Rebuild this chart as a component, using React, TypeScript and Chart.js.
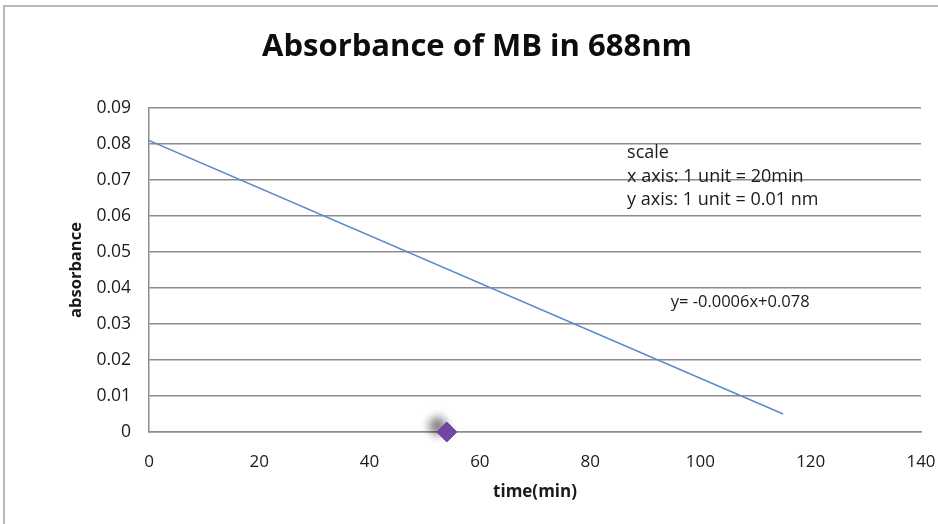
import React, { useEffect, useRef } from "react";
import { Chart, registerables } from "chart.js";

Chart.register(...registerables);

const titleText = "Absorbance of MB in 688nm";
const xAxisTitle = "time(min)";
const yAxisTitle = "absorbance";

// fitted line
const lineX = [0, 115];
const lineY = [0.081, 0.005];

// single measured point (purple diamond)
const pointX = [54];
const pointY = [0];

const xTicks = [0, 20, 40, 60, 80, 100, 120, 140];
const yTickLabels = ["0", "0.01", "0.02", "0.03", "0.04", "0.05", "0.06", "0.07", "0.08", "0.09"];

// note text, anchored in data coordinates
const noteLines = ["scale", "x axis: 1 unit = 20min", "y axis: 1 unit = 0.01 nm"];
const noteX = 86.7;
const noteY = [0.0775, 0.0709, 0.0645];
const equationText = "y= -0.0006x+0.078";
const equationX = 107.2;
const equationY = 0.0361;

const FONT = "'Open Sans', 'Liberation Sans', sans-serif";

export default function App() {
  const canvasRef = useRef<HTMLCanvasElement | null>(null);

  useEffect(() => {
    const canvas = canvasRef.current;
    if (!canvas) return;

    const shadowPlugin = {
      id: "diamondShadow",
      beforeDatasetDraw(chart: any, args: any) {
        if (args.index === 1) {
          const ctx = chart.ctx;
          ctx.save();
          ctx.shadowColor = "rgba(0,0,0,0.55)";
          ctx.shadowBlur = 10;
          ctx.shadowOffsetX = -9;
          ctx.shadowOffsetY = -6;
        }
      },
      afterDatasetDraw(chart: any, args: any) {
        if (args.index === 1) chart.ctx.restore();
      },
    };

    const notesPlugin = {
      id: "notes",
      afterDraw(chart: any) {
        const ctx = chart.ctx;
        const xs = chart.scales.x;
        const ys = chart.scales.y;
        ctx.save();
        ctx.fillStyle = "#0d0d0d";
        ctx.textBaseline = "middle";
        ctx.textAlign = "center";
        ctx.font = `bold 31px ${FONT}`;
        ctx.fillText(titleText, 477, 47);
        ctx.fillStyle = "#1a1a1a";
        ctx.font = `18px ${FONT}`;
        ctx.textAlign = "left";
        noteLines.forEach((t, i) => {
          ctx.fillText(t, xs.getPixelForValue(noteX), ys.getPixelForValue(noteY[i]));
        });
        ctx.font = `16.5px ${FONT}`;
        ctx.textAlign = "center";
        ctx.fillText(equationText, xs.getPixelForValue(equationX), ys.getPixelForValue(equationY));
        ctx.restore();
      },
    };

    const gridColor = "#8c8c8c";

    const chart = new Chart(canvas, {
      type: "scatter",
      data: {
        datasets: [
          {
            label: "fit",
            data: lineX.map((x, i) => ({ x, y: lineY[i] })),
            showLine: true,
            borderColor: "#5b8bc9",
            borderWidth: 1.5,
            pointRadius: 0,
            fill: false,
          },
          {
            label: "sample",
            data: pointX.map((x, i) => ({ x, y: pointY[i] })),
            pointStyle: "rectRot",
            pointRadius: 10,
            backgroundColor: "#7548a3",
            borderColor: "#6a3f98",
            borderWidth: 1,
            clip: false as any,
          },
        ],
      },
      options: {
        animation: false,
        responsive: false,
        maintainAspectRatio: false,
        layout: { padding: { left: 0, right: 17, top: 108, bottom: 0 } },
        plugins: {
          legend: { display: false },
          tooltip: { enabled: false },
          title: { display: false },
        },
        scales: {
          x: {
            type: "linear",
            min: 0,
            max: 140,
            afterBuildTicks(scale: any) {
              scale.ticks = xTicks.map((v) => ({ value: v }));
            },
            afterFit(scale: any) {
              scale.height = 92;
              scale.paddingLeft = 0;
              scale.paddingRight = 0;
            },
            grid: { display: false, drawTicks: false },
            border: { display: true, color: gridColor, width: 1.5 },
            ticks: {
              color: "#1a1a1a",
              font: { family: FONT, size: 17 },
              padding: 20,
              maxRotation: 0,
              callback: (v: any) => String(v),
            },
            title: {
              display: true,
              text: xAxisTitle,
              color: "#1a1a1a",
              font: { family: FONT, size: 17, weight: "bold" },
              padding: { top: 22, bottom: 22 },
            },
          },
          y: {
            type: "linear",
            min: 0,
            max: 0.09,
            afterBuildTicks(scale: any) {
              scale.ticks = yTickLabels.map((t) => ({ value: parseFloat(t) }));
            },
            afterFit(scale: any) {
              scale.width = 149;
              scale.paddingTop = 0;
              scale.paddingBottom = 0;
            },
            grid: { display: true, color: gridColor, lineWidth: 1.5, drawTicks: false },
            border: { display: true, color: gridColor, width: 1.5 },
            ticks: {
              color: "#1a1a1a",
              font: { family: FONT, size: 17.5 },
              padding: 18,
              callback: (_v: any, i: number) => yTickLabels[i],
            },
            title: {
              display: true,
              text: yAxisTitle,
              color: "#1a1a1a",
              font: { family: FONT, size: 16.5, weight: "bold" },
              padding: { top: 66, bottom: 0 },
            },
          },
        },
      },
      plugins: [shadowPlugin, notesPlugin],
    });

    return () => chart.destroy();
  }, []);

  return (
    <div
      style={{
        position: "fixed",
        left: 0,
        top: 0,
        width: 938,
        height: 524,
        background: "#ffffff",
        overflow: "hidden",
      }}
    >
      <canvas ref={canvasRef} width={938} height={524} style={{ width: 938, height: 524, display: "block" }} />
      <div
        style={{
          position: "absolute",
          left: 3,
          top: 5,
          width: 960,
          height: 560,
          borderTop: "2px solid #b8b8b8",
          borderLeft: "2px solid #b8b8b8",
          pointerEvents: "none",
        }}
      />
    </div>
  );
}
